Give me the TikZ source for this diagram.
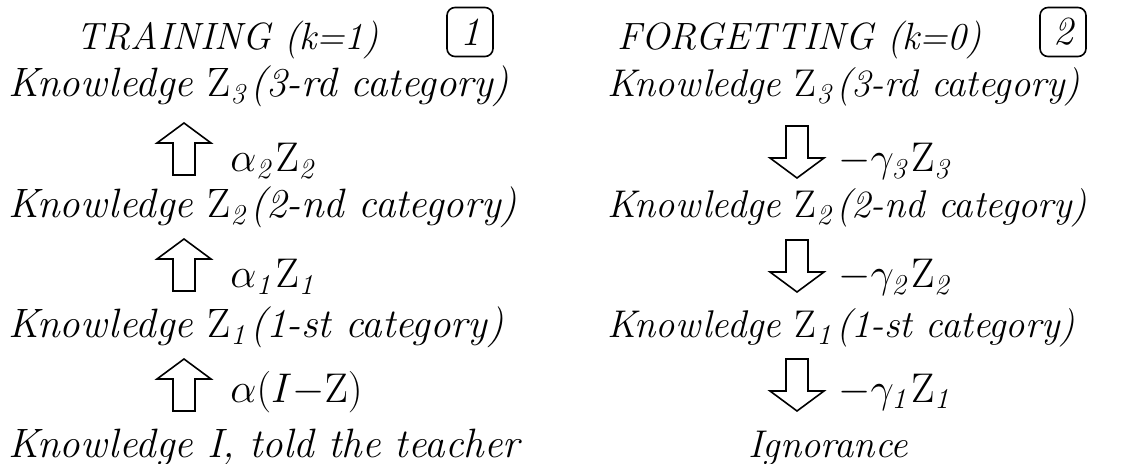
\documentclass[tikz,border=0pt]{standalone}
\usepackage{amsmath}
\usepackage{tikz}
\usetikzlibrary{positioning}

\tikzset{
  blkup/.pic={\draw[thick,line join=miter]
    (-5.5pt,-13pt) -- (-5.5pt,3pt) -- (-13.5pt,3pt) -- (0pt,13pt)
    -- (13.5pt,3pt) -- (5.5pt,3pt) -- (5.5pt,-13pt) -- cycle;},
  blkdown/.pic={\draw[thick,line join=miter]
    (-5.5pt,13pt) -- (-5.5pt,-3pt) -- (-13.5pt,-3pt) -- (0pt,-13pt)
    -- (13.5pt,-3pt) -- (5.5pt,-3pt) -- (5.5pt,13pt) -- cycle;}
}

\begin{document}
\begin{tikzpicture}[
  x=0.5pt,y=-0.5pt,
  row/.style={anchor=base west,inner sep=0pt,font=\fontsize{20.5}{22}\selectfont\itshape},
  rrow/.style={row,font=\fontsize{19.3}{21}\selectfont\itshape},
  ttl/.style={anchor=base,inner sep=0pt,font=\fontsize{19}{21}\selectfont\itshape},
  lbl/.style={anchor=base west,inner sep=0pt,font=\fontsize{21}{23}\selectfont},
  rlbl/.style={lbl,font=\fontsize{19.5}{21}\selectfont},
  numbox/.style={draw,thick,rounded corners=4pt,minimum width=23pt,minimum height=24.5pt,
                 inner sep=0pt,font=\fontsize{20}{22}\selectfont\itshape}
]
  \useasboundingbox (0,0) rectangle (1134,464);

  % training
  \node[ttl]    (t1) at (228,50) {TRAINING (k=1)};
  \node[numbox] (n1) at (470,32) {1};
  \node[row] (a3) at (8,97)  {Knowledge \textup{Z}$_{\mathit{3}}$(3-rd category)};
  \node[row] (a2) at (8,218) {Knowledge \textup{Z}$_{\mathit{2}}$(2-nd category)};
  \node[row] (a1) at (8,338) {Knowledge \textup{Z}$_{\mathit{1}}$(1-st category)};
  \node[row] (a0) at (8,457) {Knowledge I, told the teacher};

  \pic (u3) at (184,149) {blkup};
  \pic (u2) at (184,265) {blkup};
  \pic (u1) at (184,385) {blkup};
  \node[lbl] (la3) at (230,172) {$\alpha_{\mathit{2}}\mathrm{Z}_{\mathit{2}}$};
  \node[lbl] (la2) at (230,288) {$\alpha_{\mathit{1}}\mathrm{Z}_{\mathit{1}}$};
  \node[lbl] (la1) at (230,402) {$\alpha(I{-}\mathrm{Z})$};

  % forgetting
  \node[ttl]    (t2) at (800,50) {FORGETTING (k=0)};
  \node[numbox] (n2) at (1063,32) {2};
  \node[rrow] (b3) at (607,97)  {Knowledge \textup{Z}$_{\mathit{3}}$(3-rd category)};
  \node[rrow] (b2) at (607,218) {Knowledge \textup{Z}$_{\mathit{2}}$(2-nd category)};
  \node[rrow] (b1) at (607,338) {Knowledge \textup{Z}$_{\mathit{1}}$(1-st category)};
  \node[rrow,anchor=base] (b0) at (828,457) {Ignorance};

  \pic (d3) at (797,152) {blkdown};
  \pic (d2) at (797,266) {blkdown};
  \pic (d1) at (797,385) {blkdown};
  \node[rlbl] (lb3) at (838,172) {$-\gamma_{\mathit{3}}\mathrm{Z}_{\mathit{3}}$};
  \node[rlbl] (lb2) at (838,288) {$-\gamma_{\mathit{2}}\mathrm{Z}_{\mathit{2}}$};
  \node[rlbl] (lb1) at (838,402) {$-\gamma_{\mathit{1}}\mathrm{Z}_{\mathit{1}}$};
\end{tikzpicture}
\end{document}
